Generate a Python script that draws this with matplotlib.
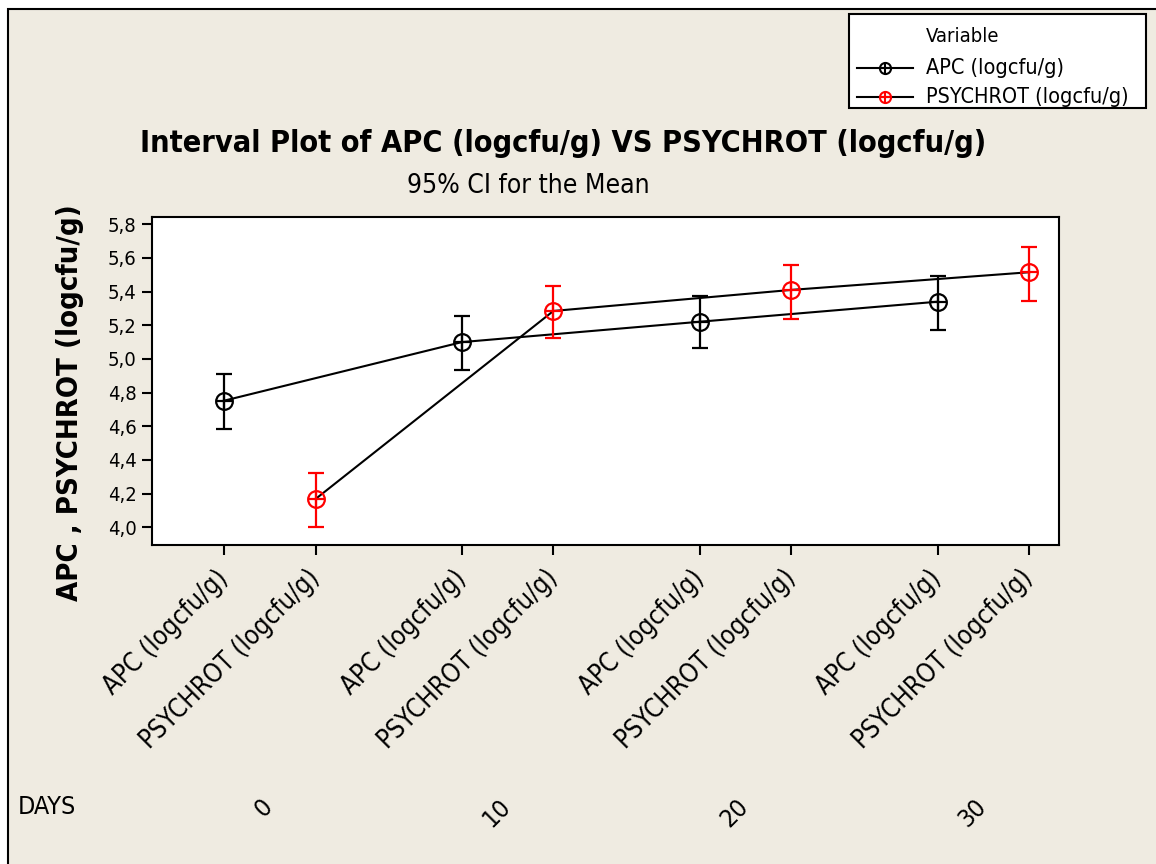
import matplotlib
matplotlib.use("Agg")
import matplotlib.pyplot as plt
from matplotlib.patches import Rectangle
from matplotlib.lines import Line2D
from matplotlib.ticker import FuncFormatter, MultipleLocator
from matplotlib.transforms import blended_transform_factory

plt.rcParams["font.family"] = ["DejaVu Sans"]
plt.rcParams["font.stretch"] = "condensed"

# interval plot data: means and 95% CI bounds per day
days = ["0", "10", "20", "30"]
apc_mean = [4.752, 5.100, 5.221, 5.340]
apc_low = [4.586, 4.934, 5.067, 5.172]
apc_high = [4.909, 5.255, 5.372, 5.493]
psy_mean = [4.168, 5.285, 5.410, 5.515]
psy_low = [4.000, 5.126, 5.239, 5.346]
psy_high = [4.321, 5.433, 5.560, 5.667]
labels = ["APC (logcfu/g)", "PSYCHROT (logcfu/g)"]

bg = "#EFEBE1"
red = "#FF0000"

# x positions: two variables per day, gap between days
gap = 2.6
apc_x = [i * gap for i in range(len(days))]
psy_x = [i * gap + 1 for i in range(len(days))]

W, H = 1156, 864
fig = plt.figure(figsize=(W / 100, H / 100), dpi=100, facecolor="white")
fig.add_artist(Rectangle((8 / W, -0.01), 1.0, 1 - 9 / H + 0.01, transform=fig.transFigure,
                         facecolor=bg, edgecolor="black", linewidth=1.5, zorder=0))

ax = fig.add_axes([152 / W, 1 - 545 / H, (1059 - 152) / W, (545 - 217) / H])
ax.set_facecolor("white")


def interval(x, mean, low, high, color):
    yerr = [[m - l for m, l in zip(mean, low)], [h - m for m, h in zip(mean, high)]]
    ax.errorbar(x, mean, yerr=yerr, fmt="none", ecolor=color, elinewidth=1.6,
                capsize=5.5, capthick=1.6, zorder=3)
    ax.plot(x, mean, linestyle="none", marker="o", markersize=12, mfc="none",
            mec=color, mew=1.6, zorder=4)
    ax.plot(x, mean, linestyle="none", marker="+", markersize=12, mec=color,
            mew=1.6, zorder=4)


ax.plot(apc_x, apc_mean, color="black", lw=1.5, zorder=2)
ax.plot(psy_x, psy_mean, color="black", lw=1.5, zorder=2)
interval(apc_x, apc_mean, apc_low, apc_high, "black")
interval(psy_x, psy_mean, psy_low, psy_high, red)

ax.set_xlim(-0.787, 9.126)
ax.set_ylim(3.895, 5.843)
ax.yaxis.set_major_locator(MultipleLocator(0.2))
ax.yaxis.set_major_formatter(FuncFormatter(lambda v, p: f"{v:.1f}".replace(".", ",")))

ticks = []
ticklabels = []
for a, b in zip(apc_x, psy_x):
    ticks += [a, b]
    ticklabels += labels
ax.set_xticks(ticks)
ax.set_xticklabels(ticklabels, rotation=45, ha="right", va="center",
                   rotation_mode="anchor", fontsize=18.5)
ax.tick_params(axis="x", length=7, width=1.5, pad=14)
ax.tick_params(axis="y", length=7, width=1.5, labelsize=14.5, pad=4)
for s in ax.spines.values():
    s.set_linewidth(1.5)

ax.set_ylabel("APC , PSYCHROT (logcfu/g)", fontsize=21, fontweight="bold")
ax.yaxis.set_label_coords((84 - 152) / 907, 0.434)

# day labels under each pair
day_tr = blended_transform_factory(ax.transData, fig.transFigure)
for i, d in enumerate(days):
    xc = (apc_x[i] + psy_x[i]) / 2 - 0.01
    ax.text(xc, 1 - 803 / H, d, transform=day_tr, rotation=45, ha="right", va="center",
            rotation_mode="anchor", fontsize=18)
fig.text(18 / W, 1 - 807 / H, "DAYS", ha="left", va="center", fontsize=18)

fig.text(563 / W, 1 - 143 / H, "Interval Plot of APC (logcfu/g) VS PSYCHROT (logcfu/g)",
         ha="center", va="center", fontsize=22, fontweight="bold")
fig.text(528 / W, 1 - 186 / H, "95% CI for the Mean", ha="center", va="center", fontsize=19)

# legend box
fig.add_artist(Rectangle((849 / W, 1 - 108 / H), (1146 - 849) / W, (108 - 14) / H,
                         transform=fig.transFigure, facecolor="white", edgecolor="black",
                         linewidth=1.5, zorder=5))
fig.text(926 / W, 1 - 36 / H, "Variable", ha="left", va="center", fontsize=14.5, zorder=6)
for yy, lab, col in [(68, labels[0], "black"), (97, labels[1], red)]:
    fy = 1 - yy / H
    fig.add_artist(Line2D([857 / W, 913 / W], [fy, fy], transform=fig.transFigure,
                          color="black", lw=1.5, zorder=6))
    fig.add_artist(Line2D([885 / W], [fy], transform=fig.transFigure, marker="o",
                          markersize=8, mfc="none", mec=col, mew=1.5, zorder=7))
    fig.add_artist(Line2D([885 / W], [fy], transform=fig.transFigure, marker="+",
                          markersize=8, mec=col, mew=1.5, zorder=7))
    fig.text(926 / W, fy, lab, ha="left", va="center", fontsize=15.5, zorder=6)

fig.savefig("out.png", dpi=100, facecolor="white")
